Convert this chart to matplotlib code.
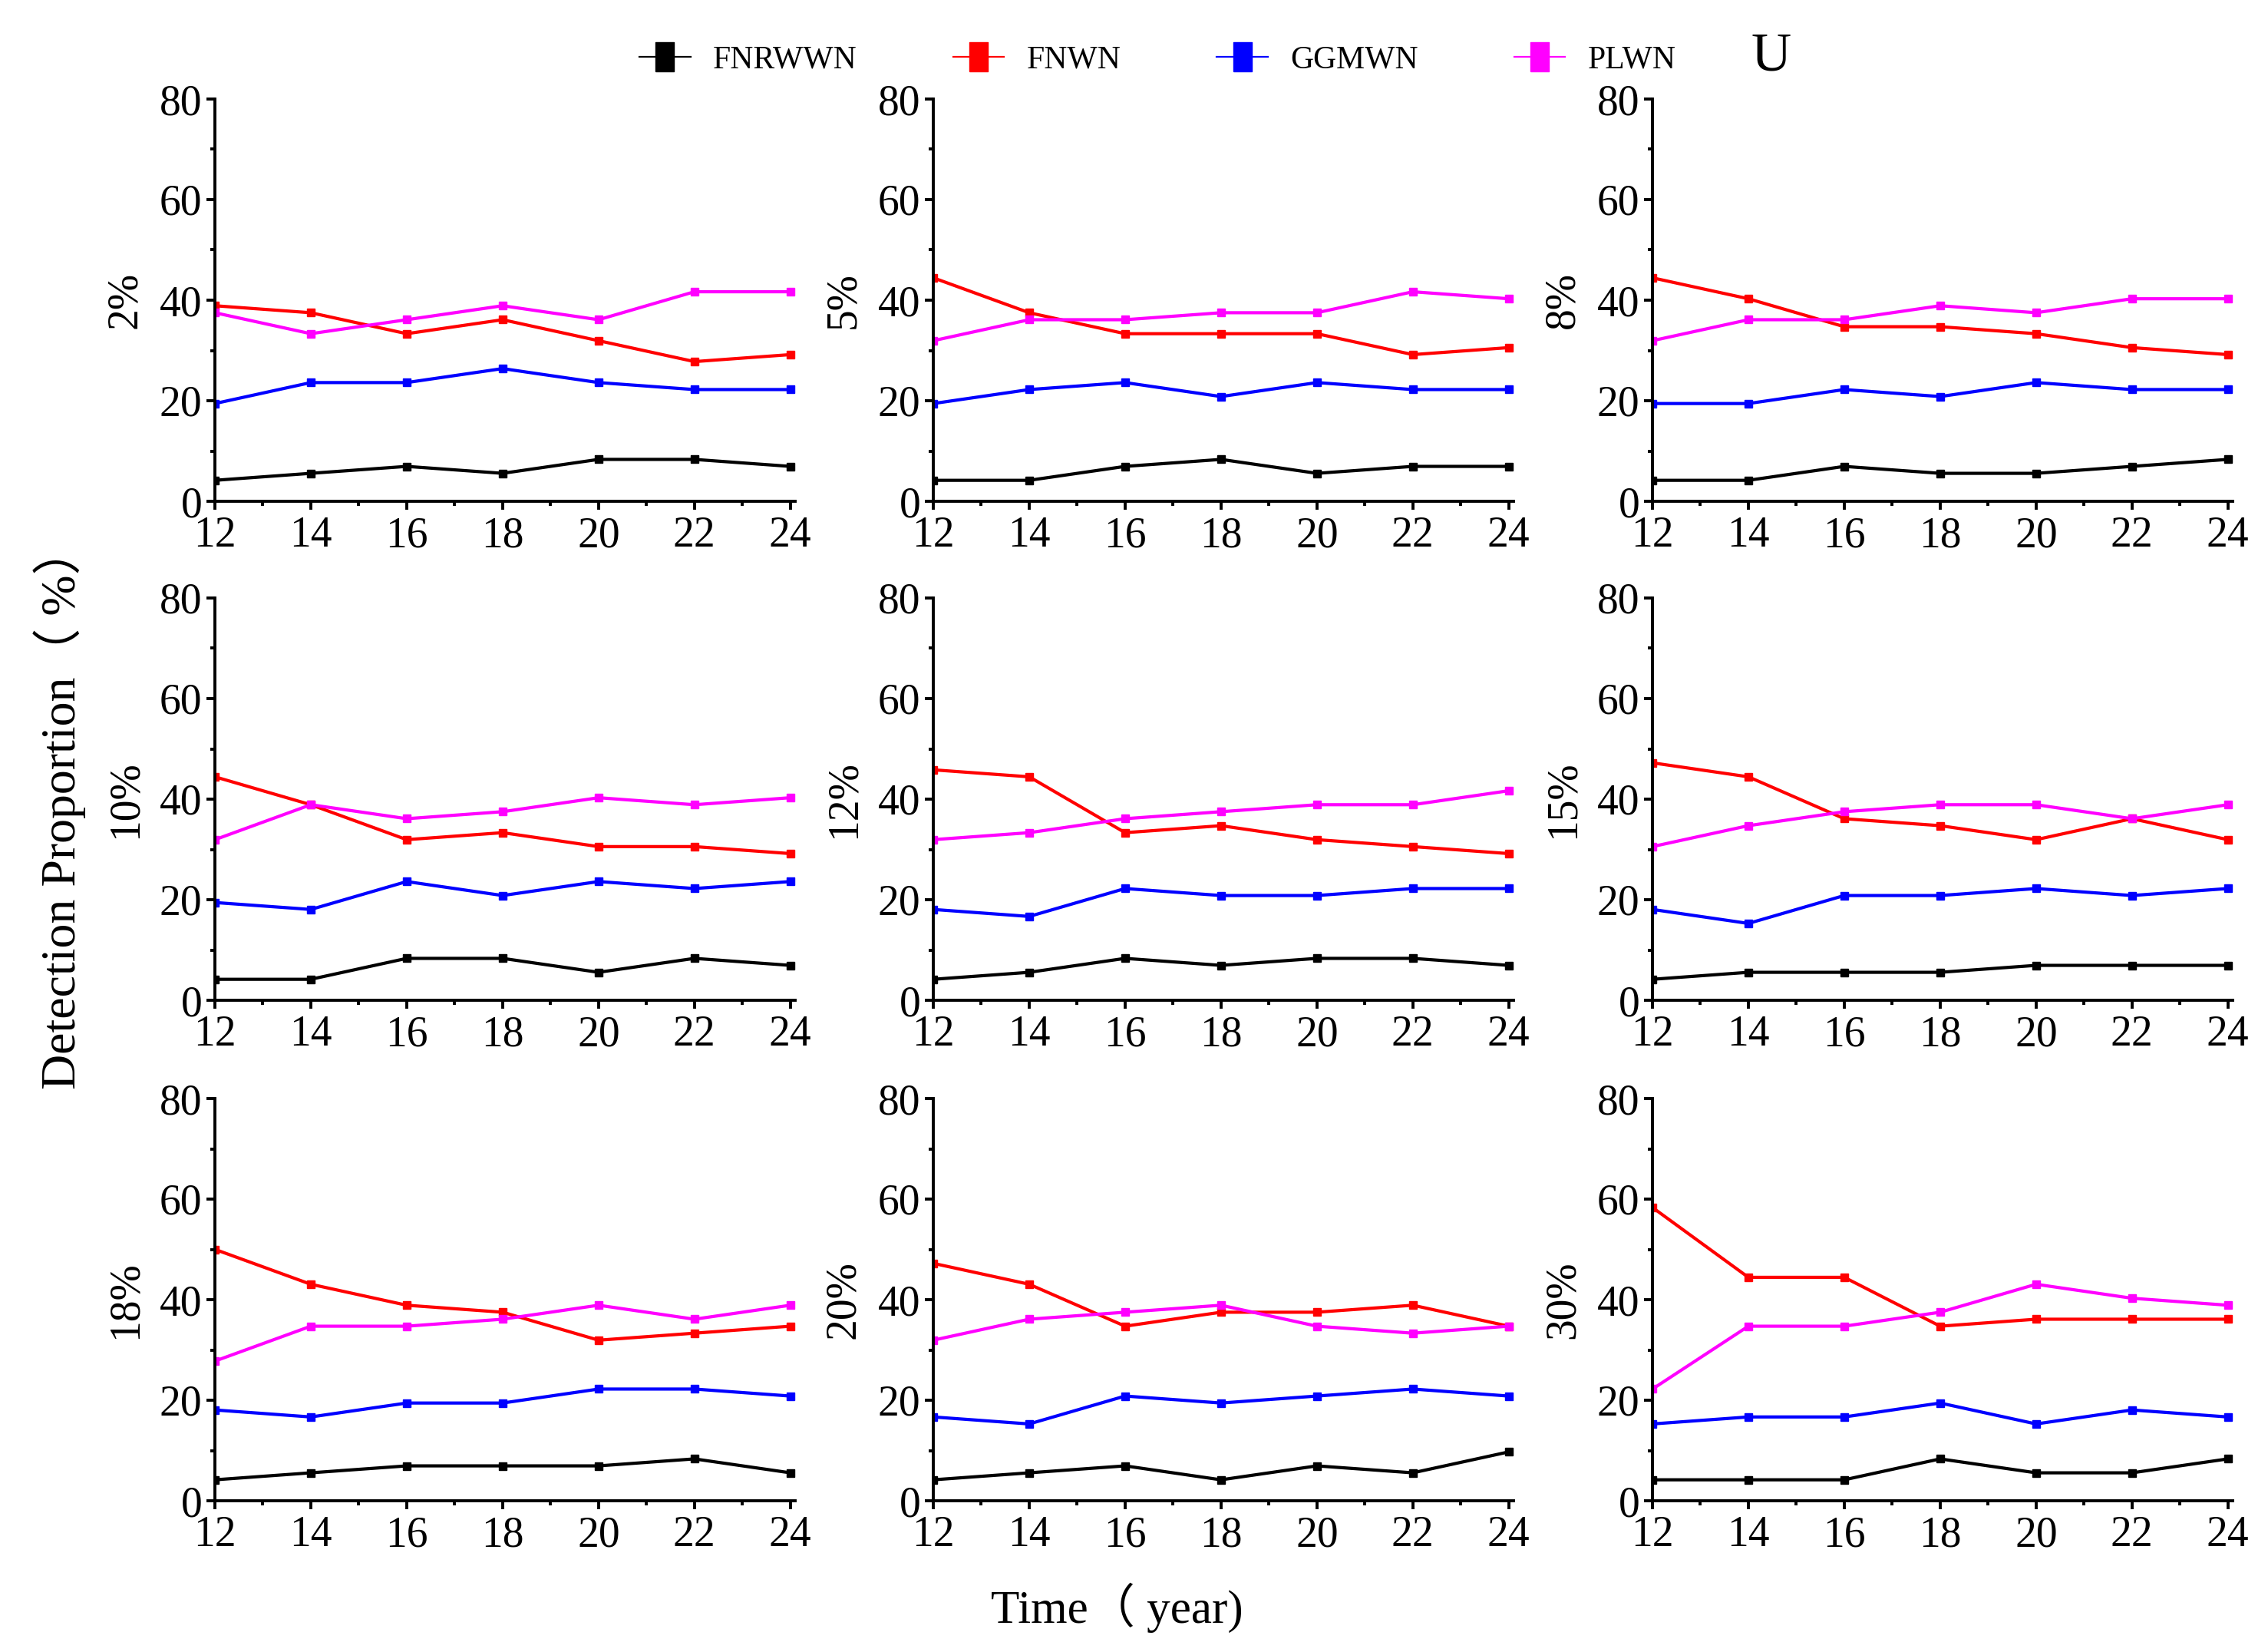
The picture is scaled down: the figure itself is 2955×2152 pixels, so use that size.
import matplotlib
matplotlib.use('Agg')
import matplotlib.pyplot as plt
from matplotlib.lines import Line2D
from matplotlib.ticker import MultipleLocator, FixedLocator

# ---------------- data ----------------
years = [12, 14, 16, 18, 20, 22, 24]
panel_labels = ['2%', '5%', '8%', '10%', '12%', '15%', '18%', '20%', '30%']
series_names = ['FNRWWN', 'FNWN', 'GGMWN', 'PLWN']
series_colors = ['#000000', '#FF0000', '#0000FF', '#FF00FF']
y_ticks = [0, 20, 40, 60, 80]
x_ticks = [12, 14, 16, 18, 20, 22, 24]

fnrwwn = [
    [4.17, 5.56, 6.94, 5.56, 8.33, 8.33, 6.94],
    [4.17, 4.17, 6.94, 8.33, 5.56, 6.94, 6.94],
    [4.17, 4.17, 6.94, 5.56, 5.56, 6.94, 8.33],
    [4.17, 4.17, 8.33, 8.33, 5.56, 8.33, 6.94],
    [4.17, 5.56, 8.33, 6.94, 8.33, 8.33, 6.94],
    [4.17, 5.56, 5.56, 5.56, 6.94, 6.94, 6.94],
    [4.17, 5.56, 6.94, 6.94, 6.94, 8.33, 5.56],
    [4.17, 5.56, 6.94, 4.17, 6.94, 5.56, 9.72],
    [4.17, 4.17, 4.17, 8.33, 5.56, 5.56, 8.33],
]
fnwn = [
    [38.89, 37.50, 33.33, 36.11, 31.94, 27.78, 29.17],
    [44.44, 37.50, 33.33, 33.33, 33.33, 29.17, 30.56],
    [44.44, 40.28, 34.72, 34.72, 33.33, 30.56, 29.17],
    [44.44, 38.89, 31.94, 33.33, 30.56, 30.56, 29.17],
    [45.83, 44.44, 33.33, 34.72, 31.94, 30.56, 29.17],
    [47.22, 44.44, 36.11, 34.72, 31.94, 36.11, 31.94],
    [50.00, 43.06, 38.89, 37.50, 31.94, 33.33, 34.72],
    [47.22, 43.06, 34.72, 37.50, 37.50, 38.89, 34.72],
    [58.33, 44.44, 44.44, 34.72, 36.11, 36.11, 36.11],
]
ggmwn = [
    [19.44, 23.61, 23.61, 26.39, 23.61, 22.22, 22.22],
    [19.44, 22.22, 23.61, 20.83, 23.61, 22.22, 22.22],
    [19.44, 19.44, 22.22, 20.83, 23.61, 22.22, 22.22],
    [19.44, 18.06, 23.61, 20.83, 23.61, 22.22, 23.61],
    [18.06, 16.67, 22.22, 20.83, 20.83, 22.22, 22.22],
    [18.06, 15.28, 20.83, 20.83, 22.22, 20.83, 22.22],
    [18.06, 16.67, 19.44, 19.44, 22.22, 22.22, 20.83],
    [16.67, 15.28, 20.83, 19.44, 20.83, 22.22, 20.83],
    [15.28, 16.67, 16.67, 19.44, 15.28, 18.06, 16.67],
]
plwn = [
    [37.50, 33.33, 36.11, 38.89, 36.11, 41.67, 41.67],
    [31.94, 36.11, 36.11, 37.50, 37.50, 41.67, 40.28],
    [31.94, 36.11, 36.11, 38.89, 37.50, 40.28, 40.28],
    [31.94, 38.89, 36.11, 37.50, 40.28, 38.89, 40.28],
    [31.94, 33.33, 36.11, 37.50, 38.89, 38.89, 41.67],
    [30.56, 34.72, 37.50, 38.89, 38.89, 36.11, 38.89],
    [27.78, 34.72, 34.72, 36.11, 38.89, 36.11, 38.89],
    [31.94, 36.11, 37.50, 38.89, 34.72, 33.33, 34.72],
    [22.22, 34.72, 34.72, 37.50, 43.06, 40.28, 38.89],
]
all_series = [fnrwwn, fnwn, ggmwn, plwn]

# ---------------- style ----------------
FONT = ['Liberation Serif', 'Noto Sans CJK SC', 'DejaVu Serif']
plt.rcParams['font.family'] = FONT

W, H = 2955, 2152
fig = plt.figure(figsize=(W / 100, H / 100), dpi=100)

col_left_px = [280, 1216, 2153]
row_bottom_px = [653, 1303, 1955]
ax_w_px = 756
ax_h_px = 524

tick_fs = 40
lw_axis = 2.8

axes = []
for i in range(9):
    r, c = divmod(i, 3)
    ax = fig.add_axes([col_left_px[c] / W, 1 - row_bottom_px[r] / H,
                       ax_w_px / W, ax_h_px / H])
    axes.append(ax)
    for s, (data, color) in enumerate(zip(all_series, series_colors)):
        ax.plot(years, data[i], color=color, lw=3.0, marker='s', ms=7.5,
                mec=color, mfc=color, label=series_names[s])
    ax.set_xlim(12, 24.1)
    ax.set_ylim(0, 80)
    ax.xaxis.set_major_locator(FixedLocator(x_ticks))
    ax.xaxis.set_minor_locator(MultipleLocator(1))
    ax.yaxis.set_major_locator(FixedLocator(y_ticks))
    ax.yaxis.set_minor_locator(MultipleLocator(10))
    for side in ['top', 'right']:
        ax.spines[side].set_visible(False)
    for side in ['left', 'bottom']:
        ax.spines[side].set_linewidth(lw_axis)
    ax.tick_params(which='major', direction='out', length=8, width=lw_axis,
                   labelsize=tick_fs)
    ax.tick_params(which='minor', direction='out', length=4.5, width=lw_axis)
    ax.tick_params(axis='x', which='major', pad=6)
    ax.tick_params(axis='y', which='major', pad=4)
    ax.set_ylabel(panel_labels[i], fontsize=40)
    ax.yaxis.set_label_coords(-0.12, 0.5)

# legend
rect = [(-0.6, -1.0), (0.6, -1.0), (0.6, 1.0), (-0.6, 1.0), (-0.6, -1.0)]
handles = [Line2D([], [], color=c, lw=1.6, marker=rect, ms=28, mfc=c, mec=c)
           for c in series_colors]
fig.legend(handles, series_names, loc='center left',
           bbox_to_anchor=(833 / W, 1 - 78 / H), ncol=4, frameon=False,
           fontsize=30, handlelength=1.6, handletextpad=0.7,
           columnspacing=3.0, borderpad=0, borderaxespad=0, numpoints=1)
fig.text(2308 / W, 1 - 74 / H, 'U', fontsize=52, ha='center', va='center')

fig.text(78 / W, 1 - 1052 / H, 'Detection Proportion（ %）', fontsize=46,
         rotation=90, ha='center', va='center')
fig.text(1455 / W, 1 - 2094 / H, 'Time（ year)', fontsize=44,
         ha='center', va='center')

fig.savefig('out.png', dpi=100)
